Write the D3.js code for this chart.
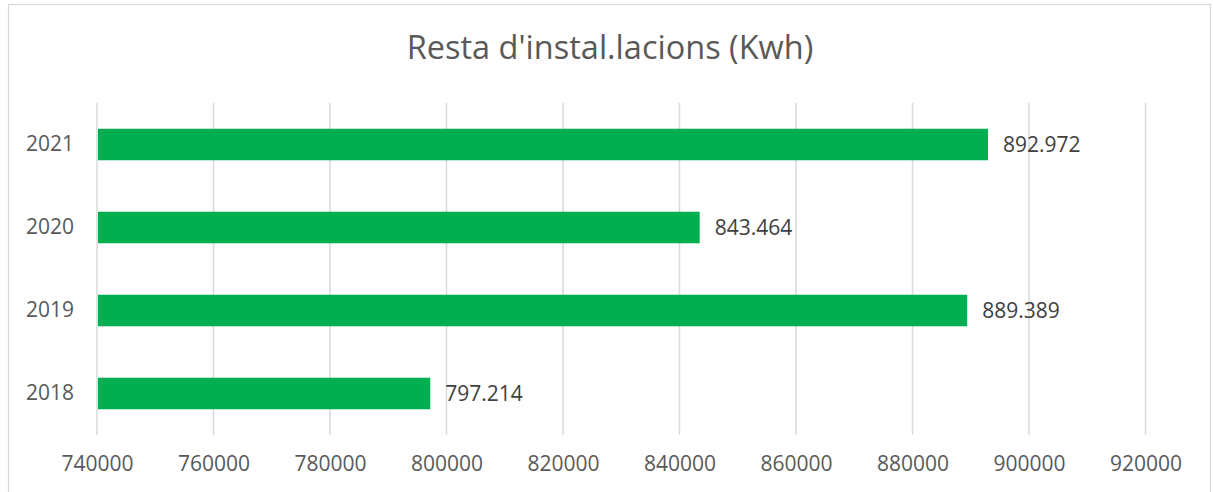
<!DOCTYPE html>
<html>
<head>
<meta charset="utf-8">
<script src="https://cdn.jsdelivr.net/npm/d3@7"></script>
<style>
  body { margin: 0; background: #fff; }
  svg { display: block; font-family: 'Open Sans', sans-serif; }
</style>
</head>
<body>
<svg width="1213" height="492"></svg>
<script>
var years = ['2021', '2020', '2019', '2018'];
var values = [892972, 843464, 889389, 797214];
var xTicks = [740000, 760000, 780000, 800000, 820000, 840000, 860000, 880000, 900000, 920000];
var title = "Resta d'instal.lacions (Kwh)";

var init = function(){

  var canvas = d3.select('svg');

  // chart frame
  canvas.append('rect')
    .attr('x', 8.5).attr('y', 4.5)
    .attr('width', 1202).attr('height', 500)
    .attr('fill', 'none').attr('stroke', '#d9d9d9').attr('stroke-width', 1.2);

  canvas.append('text')
    .attr('x', 610).attr('y', 59)
    .attr('text-anchor', 'middle')
    .attr('font-size', 32.5)
    .attr('fill', '#595959')
    .text(title);

  var x = d3.scaleLinear().domain([740000, 920000]).range([97, 1145.5]);
  var y = d3.scaleBand().domain(years).range([103, 435]).paddingInner(0.62).paddingOuter(0.31);

  // gridlines
  canvas.append('g').selectAll('line').data(xTicks).enter().append('line')
    .attr('x1', function(d){ return x(d); })
    .attr('x2', function(d){ return x(d); })
    .attr('y1', 103).attr('y2', 435)
    .attr('stroke', '#d9d9d9').attr('stroke-width', 1.5);

  // x axis labels
  var xAxis = d3.axisBottom(x).tickValues(xTicks).tickSize(0).tickPadding(0).tickFormat(d3.format('d'));
  var gx = canvas.append('g').attr('transform', 'translate(0,456)').call(xAxis);
  gx.select('.domain').remove();
  gx.selectAll('text').attr('font-size', 21).attr('fill', '#595959').attr('font-family', 'Open Sans');

  // y axis labels
  var yAxis = d3.axisLeft(y).tickSize(0).tickPadding(23);
  var gy = canvas.append('g').attr('transform', 'translate(97,0)').call(yAxis);
  gy.select('.domain').remove();
  gy.selectAll('text').attr('font-size', 21).attr('fill', '#595959').attr('font-family', 'Open Sans');

  var rows = years.map(function(d, i){ return {year: d, value: values[i]}; });

  canvas.append('g').selectAll('rect').data(rows).enter().append('rect')
    .attr('x', x(740000) + 1)
    .attr('y', function(d){ return y(d.year); })
    .attr('width', function(d){ return x(d.value) - x(740000) - 1; })
    .attr('height', y.bandwidth())
    .attr('fill', '#00b050');

  var fmt = d3.formatLocale({decimal: ',', thousands: '.', grouping: [3], currency: ['', '']}).format(',d');

  canvas.append('g').selectAll('text').data(rows).enter().append('text')
    .attr('x', function(d){ return x(d.value) + 15; })
    .attr('y', function(d){ return y(d.year) + y.bandwidth() / 2; })
    .attr('dy', '0.35em')
    .attr('font-size', 21)
    .attr('fill', '#404040')
    .text(function(d){ return fmt(d.value); });

}
init();
</script>
</body>
</html>
